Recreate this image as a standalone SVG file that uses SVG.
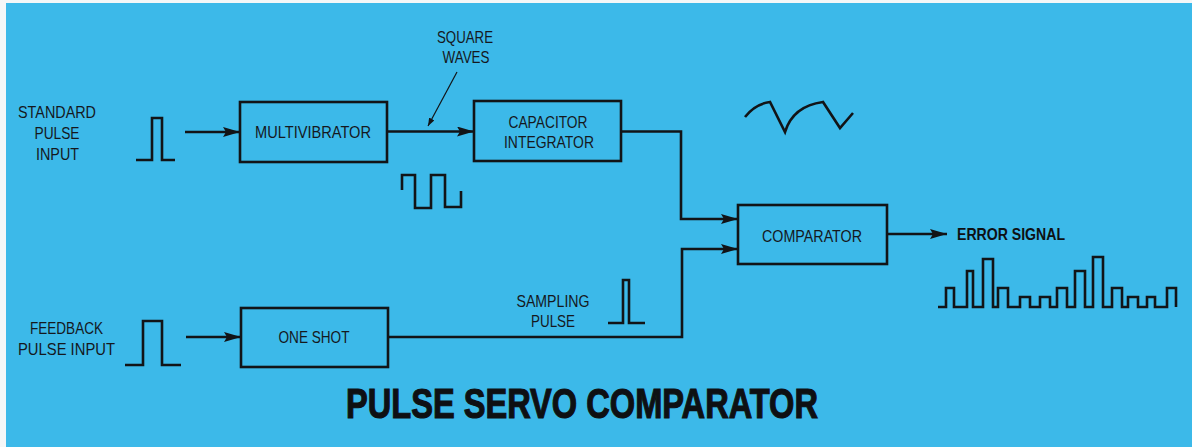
<svg xmlns="http://www.w3.org/2000/svg" width="1192" height="447" viewBox="0 0 1192 447">
<style>
.bg{fill:#3cb9e9}
.box{fill:none;stroke:#121417;stroke-width:2.6}
.wire{fill:none;stroke:#121417;stroke-width:2.6}
.wave{fill:none;stroke:#121417;stroke-width:2.6;stroke-linejoin:miter}
.lbl{font-family:"Liberation Sans Narrow","Liberation Sans",Arial,sans-serif;font-size:16.5px;fill:#15181d;text-anchor:middle}
.bold{font-family:"Liberation Sans Narrow","Liberation Sans",Arial,sans-serif;font-weight:bold;fill:#0e1013}
</style>
<defs>
<marker id="arr" viewBox="0 0 17 10" refX="17" refY="5" markerWidth="17" markerHeight="10" markerUnits="userSpaceOnUse" orient="auto">
<path d="M0,0 L17,5 L0,10 L3,5 z" fill="#121417"/>
</marker>
<marker id="sm" viewBox="0 0 8 6" refX="8" refY="3" markerWidth="8" markerHeight="6" markerUnits="userSpaceOnUse" orient="auto">
<path d="M0,0 L8,3 L0,6 z" fill="#121417"/>
</marker>
</defs>
<rect x="0" y="0" width="1192" height="447" fill="#f4f7f8"/>
<rect class="bg" x="6" y="3" width="1186" height="444"/>

<g id="connectors">
<line class="wire" x1="185" y1="132" x2="240" y2="132" marker-end="url(#arr)"/>
<line class="wire" x1="387" y1="131.5" x2="474" y2="131.5" marker-end="url(#arr)"/>
<polyline class="wire" points="621,131.5 681,131.5 681,219 738,219" marker-end="url(#arr)"/>
<line class="wire" x1="186" y1="337" x2="241" y2="337" marker-end="url(#arr)"/>
<polyline class="wire" points="388,337 682,337 682,249 738,249" marker-end="url(#arr)"/>
<line class="wire" x1="887" y1="234" x2="947" y2="234" marker-end="url(#arr)"/>
<line x1="457" y1="72" x2="428" y2="126" stroke="#121417" stroke-width="1.2" marker-end="url(#sm)"/>
</g>

<g id="standard-input">
<text class="lbl" x="57" y="118" textLength="78" lengthAdjust="spacingAndGlyphs">STANDARD</text>
<text class="lbl" x="57" y="139" textLength="45" lengthAdjust="spacingAndGlyphs">PULSE</text>
<text class="lbl" x="57.5" y="160" textLength="43" lengthAdjust="spacingAndGlyphs">INPUT</text>
<path class="wave" d="M136,160 H152 V118 H162 V160 H175"/>
</g>

<g id="multivibrator">
<rect class="box" x="240" y="102" width="147" height="60"/>
<text class="lbl" x="313" y="138" textLength="116" lengthAdjust="spacingAndGlyphs">MULTIVIBRATOR</text>
</g>

<g id="square-waves">
<text class="lbl" x="465" y="43" textLength="56" lengthAdjust="spacingAndGlyphs">SQUARE</text>
<text class="lbl" x="466" y="63" textLength="47" lengthAdjust="spacingAndGlyphs">WAVES</text>
<path class="wave" d="M402,190 V175 H415 V208 H431 V175 H445 V207 H461 V191"/>
</g>

<g id="capacitor-integrator">
<rect class="box" x="474" y="101" width="147" height="60"/>
<text class="lbl" x="548" y="128" textLength="79" lengthAdjust="spacingAndGlyphs">CAPACITOR</text>
<text class="lbl" x="549" y="148" textLength="90" lengthAdjust="spacingAndGlyphs">INTEGRATOR</text>
</g>

<g id="sawtooth">
<path class="wave" d="M745,117 Q755,104 770,102 L785,132 Q793,106 823,102 L840,128 L853,113"/>
</g>

<g id="comparator">
<rect class="box" x="738" y="205" width="149" height="59"/>
<text class="lbl" x="812" y="242" textLength="100" lengthAdjust="spacingAndGlyphs">COMPARATOR</text>
</g>

<g id="error-signal">
<text class="bold" x="957" y="240" font-size="16.5" textLength="108" lengthAdjust="spacingAndGlyphs">ERROR SIGNAL</text>
<path class="wave" d="M938,307 H946 V288 H954 V307 H967 V271 H973 V307 H983 V259 H993 V307 H998 V288 H1008 V307 H1020 V297 H1030 V307 H1040 V297 H1050 V307 H1057 V288 H1067 V307 H1075 V271 H1085 V307 H1093 V257 H1103 V307 H1112 V288 H1122 V307 H1128 V297 H1138 V307 H1147 V297 H1155 V307 H1167 V288 H1176 V307"/>
</g>

<g id="feedback-input">
<text class="lbl" x="66.5" y="334" textLength="73" lengthAdjust="spacingAndGlyphs">FEEDBACK</text>
<text class="lbl" x="66.5" y="355" textLength="97" lengthAdjust="spacingAndGlyphs">PULSE INPUT</text>
<path class="wave" d="M125,365 H143 V321 H162 V365 H181"/>
</g>

<g id="one-shot">
<rect class="box" x="241" y="308" width="147" height="59"/>
<text class="lbl" x="314" y="343" textLength="71" lengthAdjust="spacingAndGlyphs">ONE SHOT</text>
</g>

<g id="sampling-pulse">
<text class="lbl" x="553" y="307" textLength="73" lengthAdjust="spacingAndGlyphs">SAMPLING</text>
<text class="lbl" x="553" y="327" textLength="44" lengthAdjust="spacingAndGlyphs">PULSE</text>
<path class="wave" d="M608,323 H623 V280 H629 V323 H645"/>
</g>

<g id="title">
<text class="bold" x="346" y="418" font-size="43" stroke="#0e1013" stroke-width="1.2" textLength="472" lengthAdjust="spacingAndGlyphs">PULSE SERVO COMPARATOR</text>
</g>
</svg>
